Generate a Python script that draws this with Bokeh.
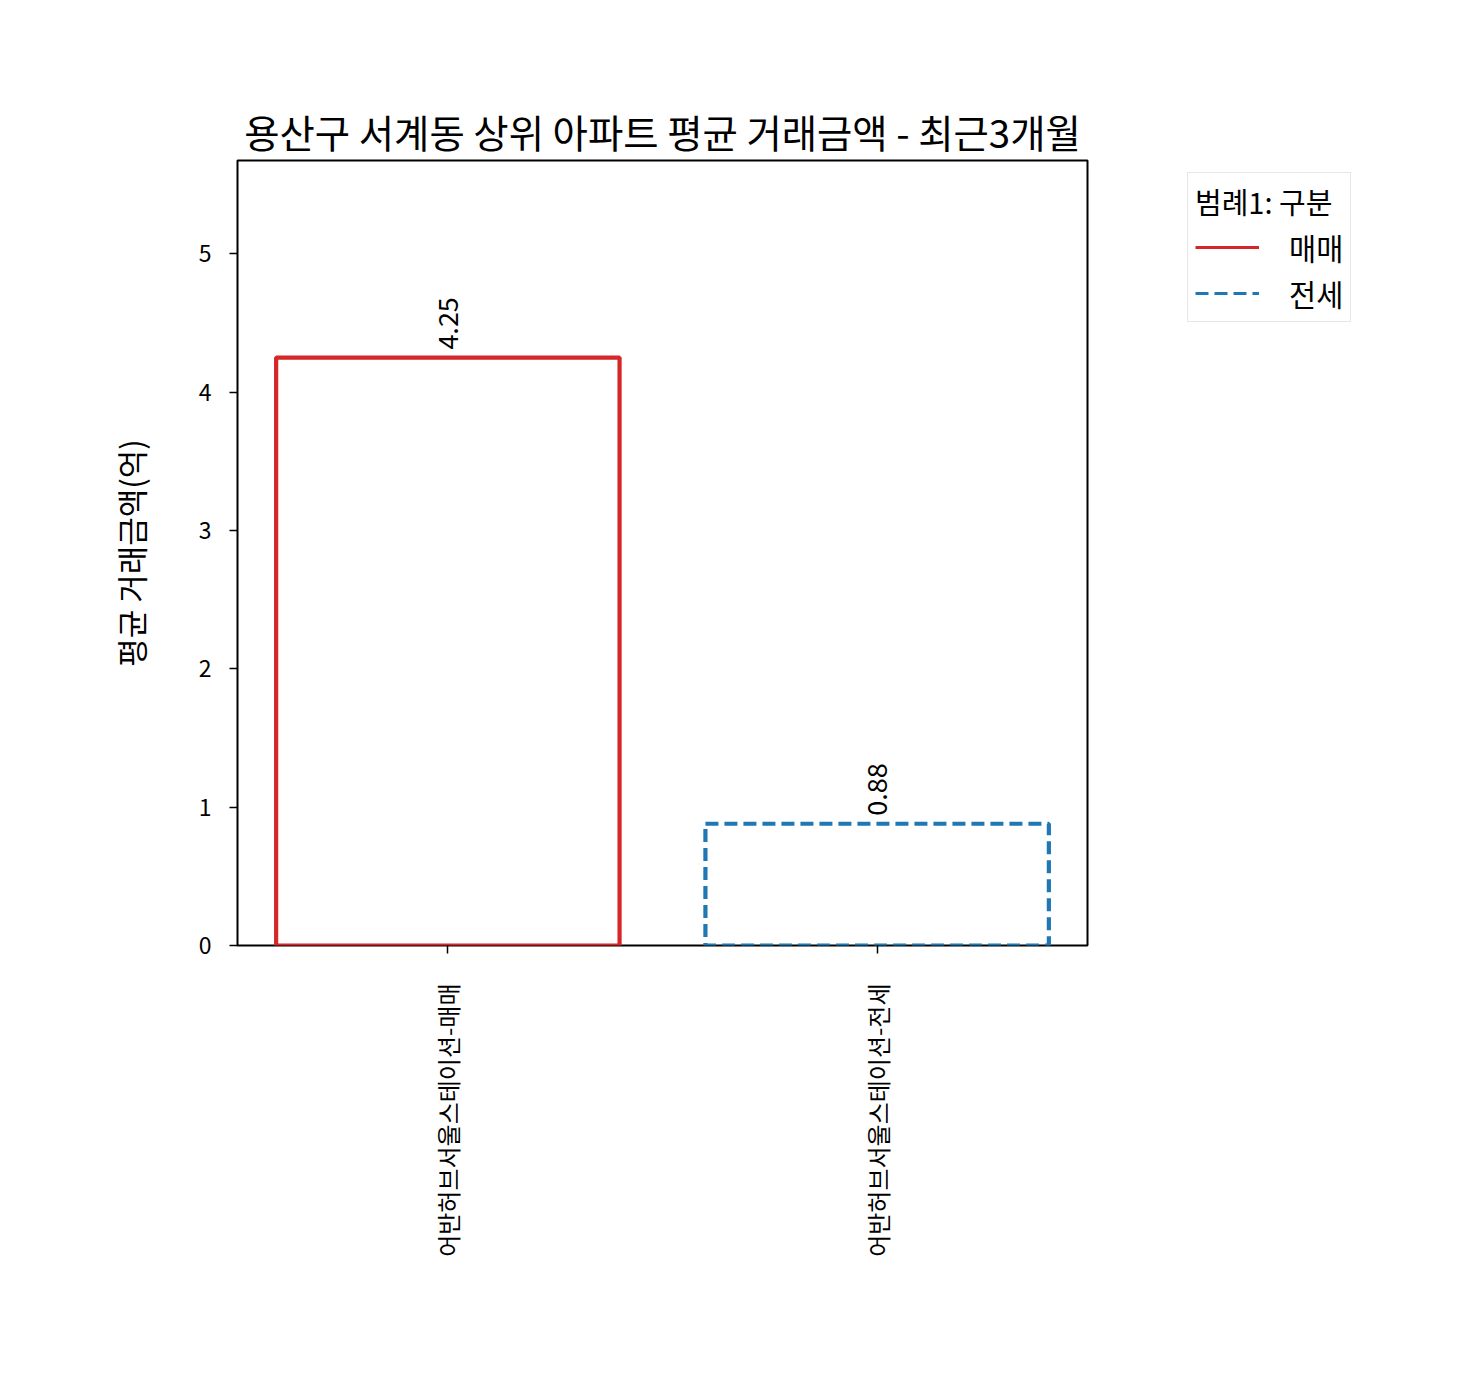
import math
from bokeh.plotting import figure
from bokeh.models import (ColumnDataSource, FixedTicker, Legend, LegendItem, Range1d)
from bokeh.embed import file_html
from bokeh.resources import INLINE

# ---- data ----
categories = ["어반허브서울스테이션-매매", "어반허브서울스테이션-전세"]
values = [4.25, 0.88]
value_labels = ["4.25", "0.88"]
series = ["매매", "전세"]
colors = ["#d62728", "#1f77b4"]
dashes = ["solid", "13 6"]
title_text = "용산구 서계동 상위 아파트 평균 거래금액 - 최근3개월"
y_label = "평균 거래금액(억)"
legend_title = "범례1: 구분"
y_ticks = [0, 1, 2, 3, 4, 5]

FONT = "Noto Sans CJK KR"
xs = list(range(len(categories)))

p = figure(frame_width=850, frame_height=785, output_backend="svg",
           toolbar_location=None,
           x_range=Range1d(-0.49, 1.49), y_range=Range1d(0, 5.675),
           min_border_left=237, min_border_right=380, min_border_top=160,
           min_border_bottom=412)
p.background_fill_color = "white"
p.border_fill_color = "white"
p.grid.visible = False
p.outline_line_color = "black"
p.outline_line_width = 2

p.title.text = title_text
p.title.text_font = FONT
p.title.text_font_size = "38.4px"
p.title.text_font_style = "normal"
p.title.text_color = "black"
p.title.align = "center"
p.title.standoff = 4

for i in xs:
    src = ColumnDataSource(dict(x=[xs[i]], top=[values[i]]))
    p.vbar(x="x", top="top", bottom=0, width=0.8, source=src,
           fill_color=None, line_color=colors[i], line_width=4.2,
           line_dash=dashes[i])

lbl_src = ColumnDataSource(dict(x=xs, y=values, t=value_labels))
p.text(x="x", y="y", text="t", source=lbl_src, angle=math.pi / 2,
       text_align="left", text_baseline="middle", y_offset=-8,
       text_font={"value": FONT}, text_font_size="27px", text_color="black")

# axes
p.yaxis.ticker = FixedTicker(ticks=y_ticks)
p.xaxis.ticker = FixedTicker(ticks=xs)
p.xaxis.major_label_overrides = {i: c for i, c in zip(xs, categories)}
p.xaxis.major_label_orientation = math.pi / 2
for ax in (p.xaxis, p.yaxis):
    ax.minor_tick_line_color = None
    ax.major_tick_in = 0
    ax.major_tick_out = 8
    ax.major_tick_line_width = 1.5
    ax.axis_line_color = None
    ax.major_label_text_font = FONT
    ax.major_label_text_font_size = "23px"
    ax.major_label_text_color = "black"
p.xaxis.major_label_text_font_size = "24px"
p.xaxis.major_label_standoff = 30
p.yaxis.major_label_standoff = 18
p.yaxis.axis_label = y_label
p.yaxis.axis_label_text_font = FONT
p.yaxis.axis_label_text_font_size = "31px"
p.yaxis.axis_label_text_font_style = "normal"
p.yaxis.axis_label_text_color = "black"
p.yaxis.axis_label_standoff = 43

# legend in the right panel (line glyphs)
nan = float("nan")
items = []
for i in xs:
    r = p.line(x=[nan], y=[nan], line_color=colors[i], line_width=3,
               line_dash=dashes[i])
    items.append(LegendItem(label=series[i], renderers=[r]))
legend = Legend(items=items, location=(100, 623), title=legend_title)
legend.title_text_font = FONT
legend.title_text_font_size = "29px"
legend.title_text_font_style = "normal"
legend.title_text_color = "black"
legend.title_standoff = 4
legend.label_text_font = FONT
legend.label_text_font_size = "29.5px"
legend.label_text_color = "black"
legend.glyph_width = 64
legend.glyph_height = 30
legend.label_standoff = 30
legend.spacing = 4
legend.padding = 7
legend.margin = 0
legend.border_line_color = "#d0d0d0"
legend.border_line_width = 1.5
legend.background_fill_alpha = 1
p.add_layout(legend, "right")

open("out.html", "w").write(file_html(p, INLINE))
